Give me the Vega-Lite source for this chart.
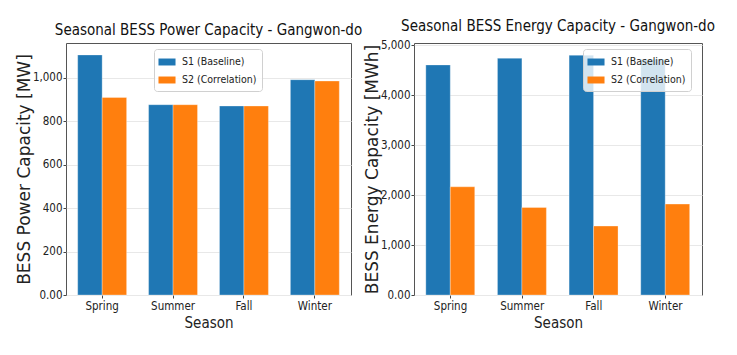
{
  "$schema": "https://vega.github.io/schema/vega-lite/v6.json",
  "padding": {"left": 14, "top": 18, "right": 5, "bottom": 5},
  "bounds": "flush",
  "spacing": 63,
  "config": {
    "font": "DejaVu Sans Condensed, Liberation Sans, sans-serif",
    "view": {"stroke": "#555", "strokeWidth": 1},
    "axis": {"domain": false, "grid": true, "gridColor": "#e8e8e8", "tickColor": "#444", "tickSize": 3, "labelFont": "DejaVu Sans Condensed, Liberation Sans, sans-serif", "labelFontSize": 11.5, "labelColor": "#222", "titleColor": "#222", "titleFontWeight": "normal", "labelPadding": 1},
    "axisX": {"grid": false, "labelAngle": 0, "titleFont": "DejaVu Sans Condensed, Liberation Sans, sans-serif", "titleFontSize": 15, "titlePadding": 4, "labelPadding": 2},
    "axisY": {"titleFont": "DejaVu Sans", "titleFontSize": 17, "titlePadding": -1},
    "title": {"font": "DejaVu Sans Condensed, Liberation Sans, sans-serif", "fontSize": 15, "fontWeight": "normal", "color": "#111", "baseline": "alphabetic", "offset": 5, "frame": "group"},
    "legend": {"labelFont": "DejaVu Sans Condensed, Liberation Sans, sans-serif", "labelFontSize": 10.5, "labelColor": "#222", "symbolType": "M-1.1,-0.45H1.1V0.45H-1.1Z", "symbolSize": 240, "symbolStrokeWidth": 0, "symbolOpacity": 1, "fillColor": "rgba(255,255,255,0.8)", "strokeColor": "#d0d0d0", "cornerRadius": 3, "padding": 5, "rowPadding": 4, "labelOffset": 7}
  },
  "datasets": {
    "power": [
      {"season": "Spring", "scenario": "S1 (Baseline)", "value": 1105},
      {"season": "Spring", "scenario": "S2 (Correlation)", "value": 909},
      {"season": "Summer", "scenario": "S1 (Baseline)", "value": 876},
      {"season": "Summer", "scenario": "S2 (Correlation)", "value": 876},
      {"season": "Fall", "scenario": "S1 (Baseline)", "value": 870},
      {"season": "Fall", "scenario": "S2 (Correlation)", "value": 870},
      {"season": "Winter", "scenario": "S1 (Baseline)", "value": 991},
      {"season": "Winter", "scenario": "S2 (Correlation)", "value": 985}
    ],
    "energy": [
      {"season": "Spring", "scenario": "S1 (Baseline)", "value": 4606},
      {"season": "Spring", "scenario": "S2 (Correlation)", "value": 2166},
      {"season": "Summer", "scenario": "S1 (Baseline)", "value": 4740},
      {"season": "Summer", "scenario": "S2 (Correlation)", "value": 1752},
      {"season": "Fall", "scenario": "S1 (Baseline)", "value": 4800},
      {"season": "Fall", "scenario": "S2 (Correlation)", "value": 1380},
      {"season": "Winter", "scenario": "S1 (Baseline)", "value": 4720},
      {"season": "Winter", "scenario": "S2 (Correlation)", "value": 1820}
    ]
  },
  "hconcat": [
    {
      "width": 285,
      "height": 252,
      "title": "Seasonal BESS Power Capacity - Gangwon-do",
      "data": {"name": "power"},
      "mark": {"type": "bar", "stroke": "white", "strokeWidth": 0.6, "strokeOpacity": 0.5},
      "encoding": {
        "x": {"field": "season", "type": "nominal", "sort": ["Spring", "Summer", "Fall", "Winter"], "title": "Season", "scale": {"paddingInner": 0.31, "paddingOuter": 0.165}},
        "xOffset": {"field": "scenario", "type": "nominal", "scale": {"padding": 0}},
        "y": {"field": "value", "type": "quantitative", "title": "BESS Power Capacity [MW]", "scale": {"domain": [0, 1160], "nice": false}, "axis": {"values": [0, 200, 400, 600, 800, 1000], "labelExpr": "datum.value == 0 ? '0.00' : format(datum.value, ',')"}},
        "color": {"field": "scenario", "type": "nominal", "scale": {"domain": ["S1 (Baseline)", "S2 (Correlation)"], "range": ["#1f77b4", "#ff7f0e"]}, "legend": {"orient": "none", "legendX": 88, "legendY": 6, "title": null}}
      }
    },
    {
      "width": 288,
      "height": 252,
      "title": "Seasonal BESS Energy Capacity - Gangwon-do",
      "data": {"name": "energy"},
      "mark": {"type": "bar", "stroke": "white", "strokeWidth": 0.6, "strokeOpacity": 0.5},
      "encoding": {
        "x": {"field": "season", "type": "nominal", "sort": ["Spring", "Summer", "Fall", "Winter"], "title": "Season", "scale": {"paddingInner": 0.31, "paddingOuter": 0.165}},
        "xOffset": {"field": "scenario", "type": "nominal", "scale": {"padding": 0}},
        "y": {"field": "value", "type": "quantitative", "title": "BESS Energy Capacity [MWh]", "scale": {"domain": [0, 5045], "nice": false}, "axis": {"values": [0, 1000, 2000, 3000, 4000, 5000], "labelExpr": "datum.value == 0 ? '0.00' : format(datum.value, ',')"}},
        "color": {"field": "scenario", "type": "nominal", "scale": {"domain": ["S1 (Baseline)", "S2 (Correlation)"], "range": ["#1f77b4", "#ff7f0e"]}, "legend": {"orient": "none", "legendX": 169, "legendY": 6, "title": null}}
      }
    }
  ],
  "resolve": {"scale": {"color": "independent"}}
}
